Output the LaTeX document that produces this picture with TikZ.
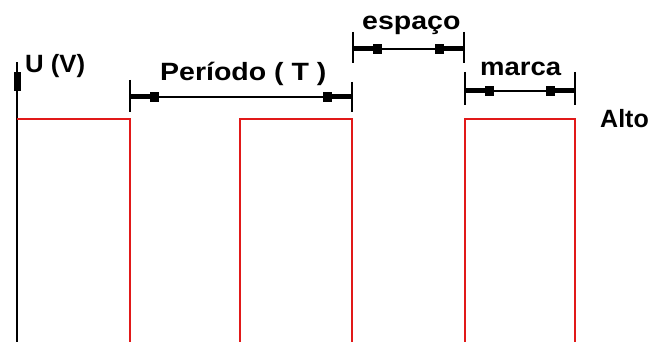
\documentclass[tikz,border=0pt]{standalone}
\usepackage{fontspec}
\setmainfont{Liberation Sans}
\definecolor{sigred}{RGB}{225,25,25}
\begin{document}
\begin{tikzpicture}[x=1pt,y=-1pt,
  lbl/.style={font=\fontsize{25}{28}\selectfont\bfseries, inner sep=0pt, anchor=base west},
  extln/.style={line width=1.8pt},
  dimln/.style={line width=1.3pt},
  sig/.style={line width=2.6pt, draw=sigred, line join=miter},
  dimtip/.pic={\fill (0,-2.5) rectangle (20,2.5); \fill (20,-5) rectangle (29,5);}
]
\useasboundingbox (0,0) rectangle (650,342);
% axis
\coordinate (ybot) at (17,342);
\coordinate (ytop) at (17,62);
\draw[line width=2.6pt] (ybot) -- (ytop);
\fill (13.5,72) rectangle (21,91);
% signal
\draw[sig] (17,119) -- (130,119) -- (130,342);
\draw[sig] (240,342) -- (240,119) -- (352,119) -- (352,342);
\draw[sig] (465,342) -- (465,119) -- (575,119) -- (575,342);
% Periodo
\coordinate (pA) at (130,97); \coordinate (pB) at (352,97);
\draw[extln] (130,80) -- (130,112);
\draw[extln] (352,82) -- (352,112);
\draw[dimln] (pA) -- (pB);
\pic at (pA) {dimtip};
\pic[rotate=180] at (pB) {dimtip};
% espaco
\coordinate (eA) at (353,49); \coordinate (eB) at (464,49);
\draw[extln] (353,32) -- (353,63);
\draw[extln] (464,32) -- (464,63);
\draw[dimln] (eA) -- (eB);
\pic at (eA) {dimtip};
\pic[rotate=180] at (eB) {dimtip};
% marca
\coordinate (mA) at (465,91); \coordinate (mB) at (575,91);
\draw[extln] (465,72) -- (465,105);
\draw[extln] (575,72) -- (575,105);
\draw[dimln] (mA) -- (mB);
\pic at (mA) {dimtip};
\pic[rotate=180] at (mB) {dimtip};
% labels
\node[lbl] (uv) at (25,73) {\scalebox{1.03}[1]{U (V)}};
\node[lbl] (per) at (160,81) {\scalebox{1.14}[1]{Período ( T )}};
\node[lbl] (esp) at (362,30) {\scalebox{1.14}[1]{espaço}};
\node[lbl] (mar) at (480,76) {\scalebox{1.1}[1]{marca}};
\node[lbl] (alto) at (600,127.5) {Alto};
\end{tikzpicture}
\end{document}
